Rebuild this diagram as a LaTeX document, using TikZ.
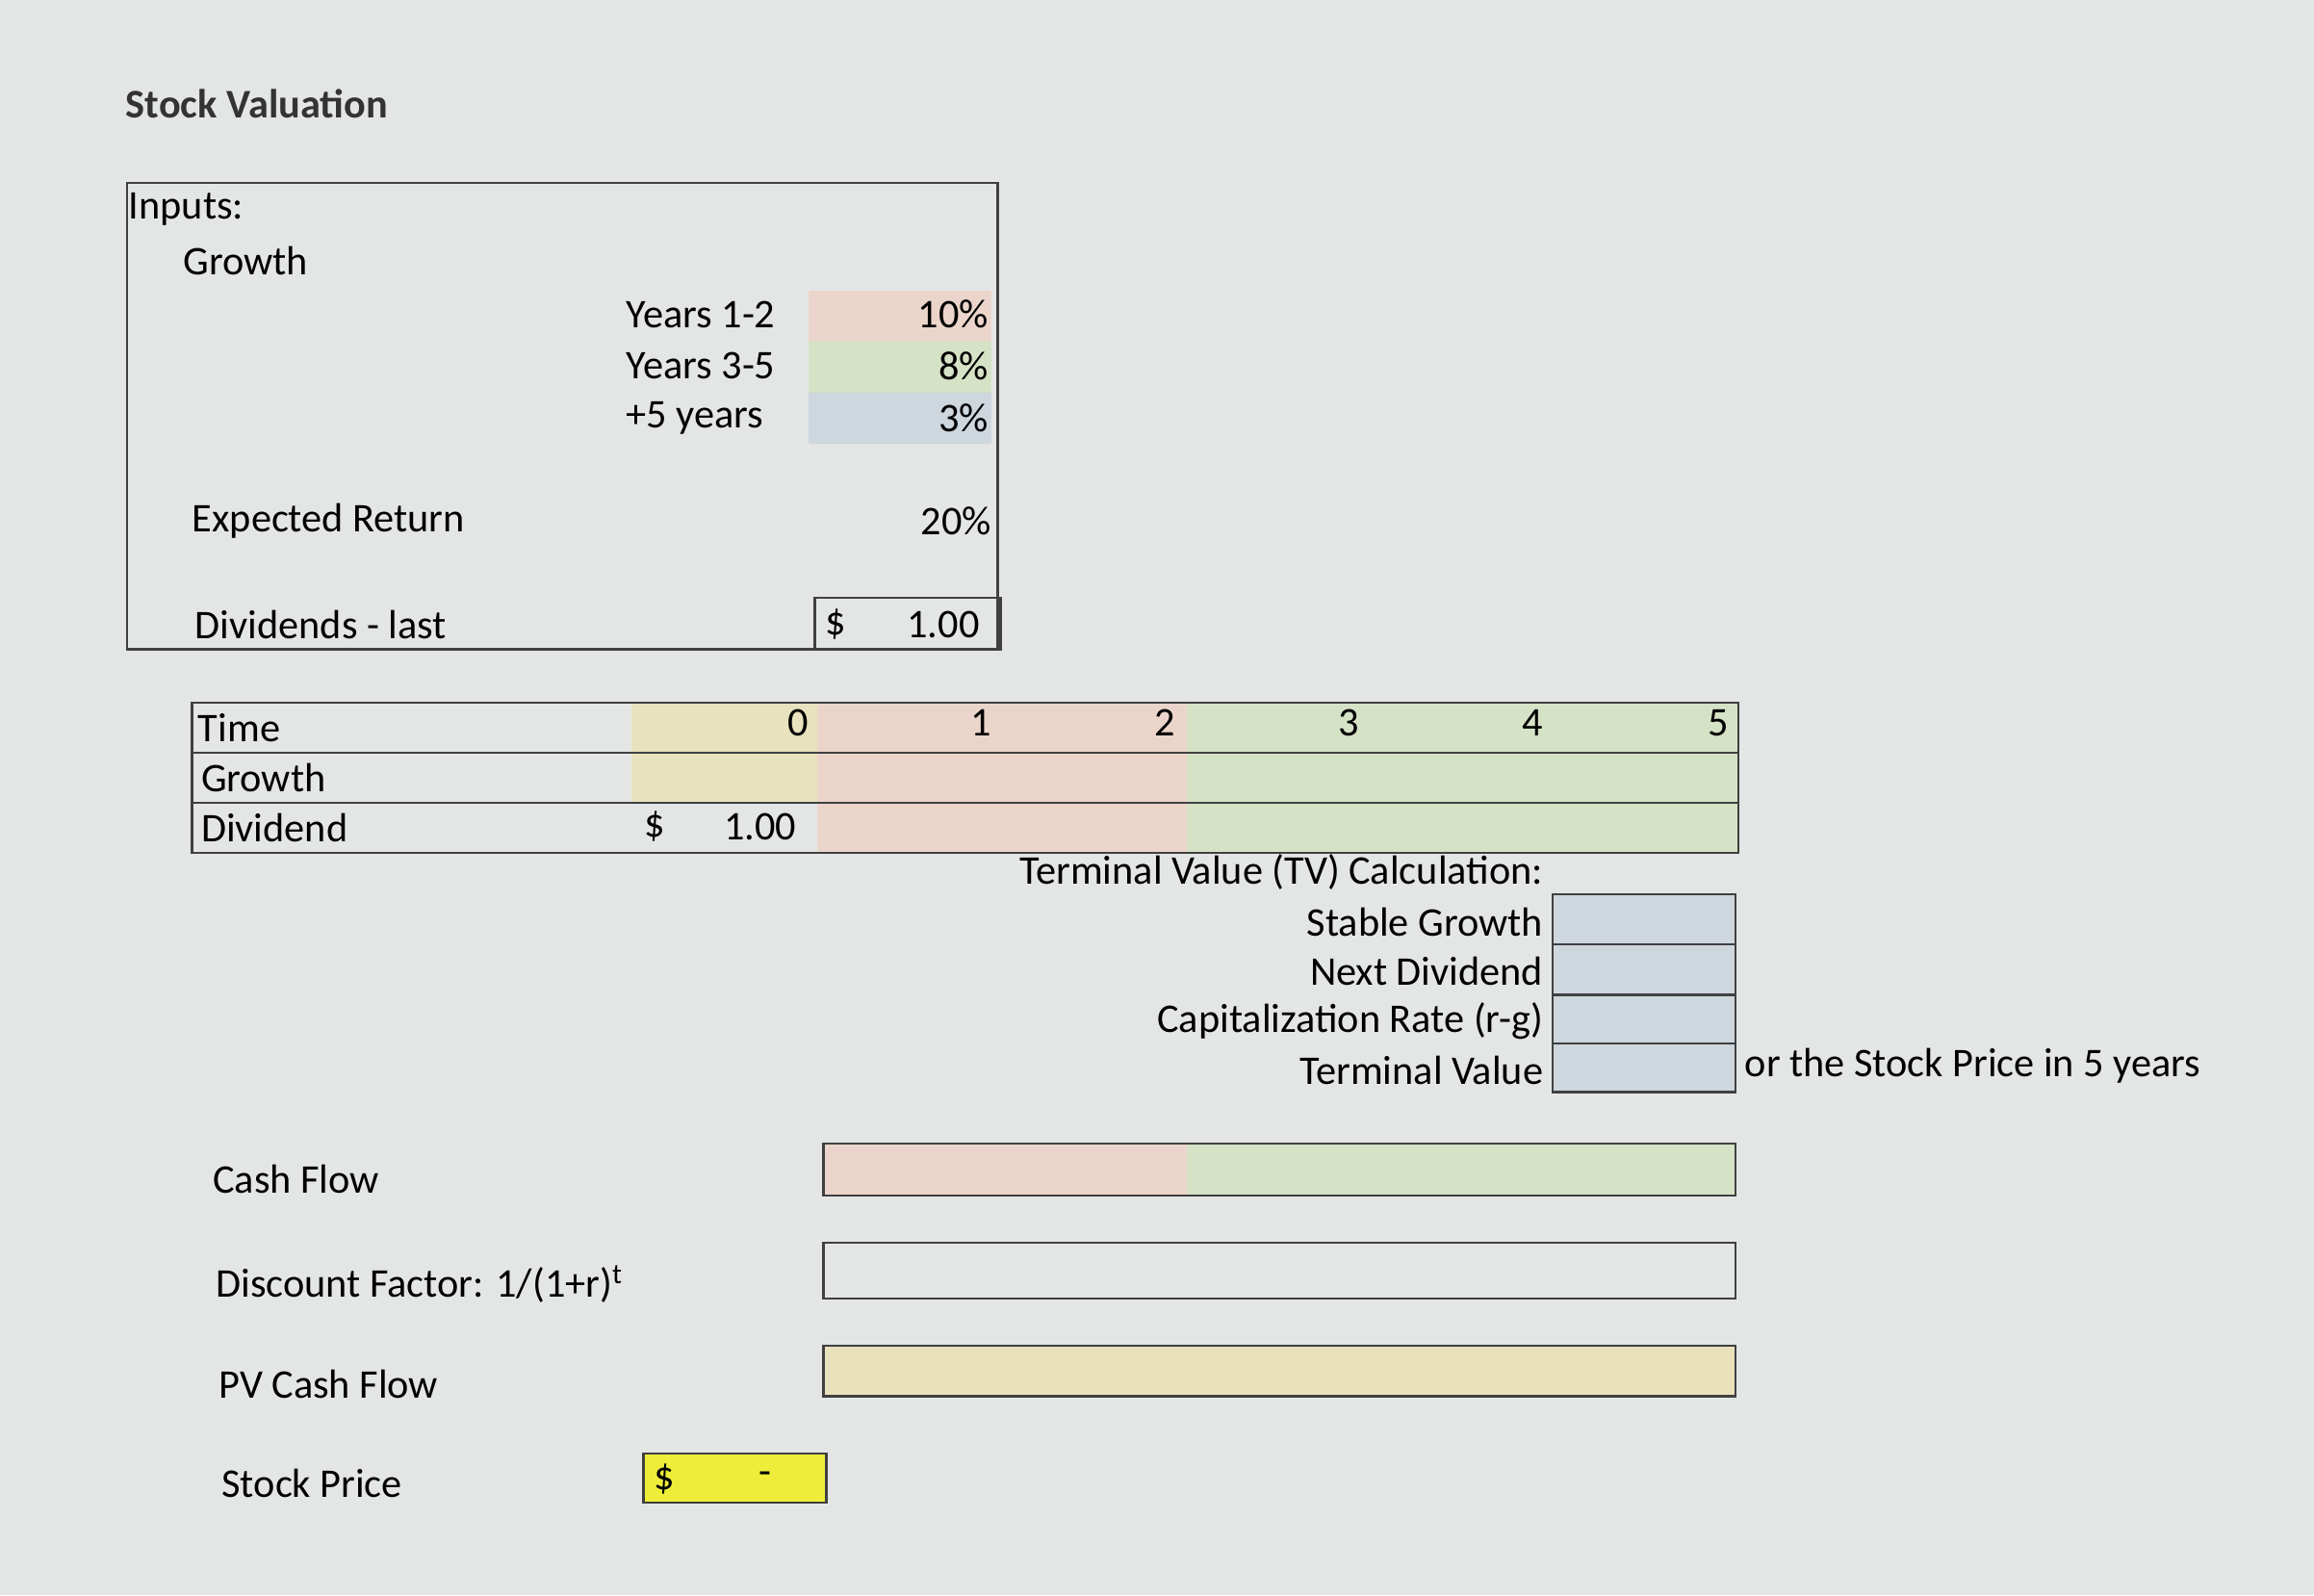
\documentclass[tikz,border=0pt]{standalone}
\usepackage{fontspec}
\setmainfont{Carlito}
\begin{document}
\begin{tikzpicture}[x=0.02cm,y=-0.02cm,
  lab/.style={anchor=west,inner sep=0,font=\fontsize{15.7}{17}\selectfont},
  rl/.style={anchor=east,inner sep=0,font=\fontsize{15.7}{17}\selectfont},
  bx/.style={draw=black!75,line width=0.9pt}]
\definecolor{bg}{HTML}{E4E6E6}
\definecolor{org}{HTML}{EBD5CB}
\definecolor{grn}{HTML}{D6E2C6}
\definecolor{blu}{HTML}{CED6DE}
\definecolor{ylw}{HTML}{E8E2BE}
\definecolor{pvy}{HTML}{E9E0BC}
\definecolor{spy}{HTML}{EEEE3A}
\fill[bg] (0,0) rectangle (1568,1081);
\useasboundingbox (0,0) rectangle (1568,1081);
\node[lab,font=\bfseries\fontsize{15.7}{17}\selectfont,text=black!80] (title) at (85,70) {Stock Valuation};
% inputs
\fill[org] (548,197) rectangle (672,231);
\fill[grn] (548,231) rectangle (672,266);
\fill[blu] (548,266) rectangle (672,301);
\draw[bx] (86,124) rectangle (676,440);
\draw[bx] (552,405) rectangle (678,440);
\node[lab] (inp) at (87,142) {Inputs:};
\node[lab] (gr) at (124,177) {Growth};
\node[lab] (y12) at (424,213) {Years 1-2};
\node[lab] (y35) at (424,248) {Years 3-5};
\node[lab] (y5) at (424,283) {+5 years};
\node[rl] (p1) at (670,213) {10\%};
\node[rl] (p2) at (670,248) {8\%};
\node[rl] (p3) at (670,283) {3\%};
\node[lab] (er) at (130,353) {Expected Return};
\node[rl] (p4) at (672,353) {20\%};
\node[lab] (dl) at (132,423) {Dividends - last};
\node[lab] (d1) at (559,423) {\$};
\node[rl] (d2) at (664,423) {1.00};
% table
\fill[ylw] (428,476) rectangle (554,544);
\fill[org] (554,476) rectangle (804,578);
\fill[grn] (804,476) rectangle (1178,578);
\draw[bx] (130,476) rectangle (1178,578);
\draw[bx] (130,510) -- (1178,510) (130,544) -- (1178,544);
\node[lab] (t) at (134,493) {Time};
\node[lab] (g) at (136,527) {Growth};
\node[lab] (dv) at (136,561) {Dividend};
\foreach \i/\x in {0/548,1/672,2/797,3/921,4/1046,5/1172}
  \node[rl] (c\i) at (\x,490) {\i};
\node[lab] (dd) at (436,560) {\$};
\node[rl] (dd2) at (540,560) {1.00};
% TV
\fill[blu] (1052,606) rectangle (1176,740);
\draw[bx] (1052,606) rectangle (1176,740);
\foreach \yy in {640,674,707} \draw[bx] (1052,\yy) -- (1176,\yy);
\node[rl] (tv) at (1046,591) {Terminal Value (TV) Calculation:};
\node[rl] (sg) at (1046,625) {Stable Growth};
\node[rl] (nd) at (1046,658) {Next Dividend};
\node[rl] (cr) at (1046,692) {Capitalization Rate (r-g)};
\node[rl] (tvv) at (1046,725) {Terminal Value};
\node[lab] (or) at (1182,722) {or the Stock Price in 5 years};
% rows
\fill[org] (558,775) rectangle (804,810);
\fill[grn] (804,775) rectangle (1176,810);
\draw[bx] (558,775) rectangle (1176,810);
\node[lab] (cf) at (144,799) {Cash Flow};
\draw[bx] (558,842) rectangle (1176,880);
\node[lab] (df) at (146,870) {Discount Factor: 1/(1+r)\textsuperscript{t}};
\fill[pvy] (558,912) rectangle (1176,946);
\draw[bx] (558,912) rectangle (1176,946);
\node[lab] (pv) at (148,938) {PV Cash Flow};
\fill[spy] (436,985) rectangle (560,1018);
\draw[bx] (436,985) rectangle (560,1018);
\node[lab] (sp) at (150,1005) {Stock Price};
\node[lab] (s1) at (443,1002) {\$};
\node[lab] (s2) at (514,1002) {-};
\end{tikzpicture}
\end{document}
